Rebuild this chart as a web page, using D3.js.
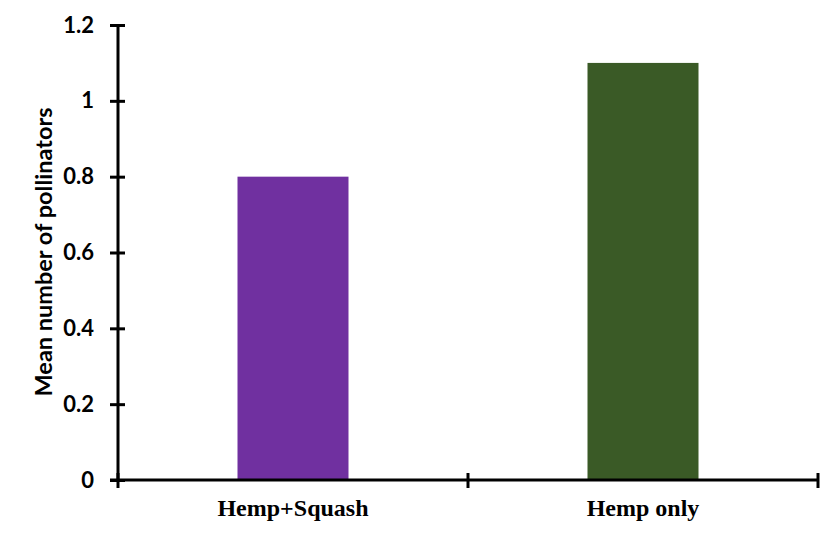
<html>
<script src='https://d3js.org/d3.v7.min.js'></script>
<style>
    body { margin: 0; background: white; }
</style>
<body>
<div id="chart"></div>
<script>
    // chart data
    var categories = ["Hemp+Squash", "Hemp only"];
    var values = [0.8, 1.1];
    var barColors = ["#7030a0", "#3a5a26"];
    var yTicks = [0, 0.2, 0.4, 0.6, 0.8, 1, 1.2];

    const width = 840, height = 536;
    const mLeft = 118, mRight = 818, mTop = 25, mBottom = 480;

    const svg = d3.select("#chart").append("svg")
        .attr("width", width)
        .attr("height", height);

    const xScale = d3.scaleBand()
        .domain(categories)
        .range([mLeft, mRight])
        .paddingInner(0)
        .paddingOuter(0);

    const yScale = d3.scaleLinear()
        .domain([0, 1.2])
        .range([mBottom, mTop]);

    // bars
    const barW = 111;
    svg.selectAll("rect.bar")
        .data(categories)
        .enter()
        .append("rect")
        .attr("class", "bar")
        .attr("x", d => xScale(d) + xScale.bandwidth() / 2 - barW / 2)
        .attr("y", (d, i) => yScale(values[i]))
        .attr("width", barW)
        .attr("height", (d, i) => yScale(0) - yScale(values[i]))
        .attr("fill", (d, i) => barColors[i]);

    // y axis with cross ticks
    const yAxis = svg.append("g")
        .attr("transform", `translate(${mLeft},0)`)
        .call(d3.axisLeft(yScale).tickValues(yTicks).tickSize(0).tickPadding(24)
            .tickFormat(d => d3.format("")(+d.toFixed(1))));
    yAxis.select(".domain").remove();
    yAxis.selectAll("text")
        .style("font-family", "Lato, 'Open Sans', sans-serif")
        .style("font-weight", "bold")
        .style("font-size", "22px")
        .attr("fill", "#000");
    yAxis.selectAll(".tick").append("line")
        .attr("x1", -8).attr("x2", 7)
        .attr("stroke", "#000").attr("stroke-width", 3);
    svg.append("line")
        .attr("x1", mLeft).attr("x2", mLeft)
        .attr("y1", yScale(1.2)).attr("y2", yScale(0))
        .attr("stroke", "#000").attr("stroke-width", 3);

    // x axis
    svg.append("line")
        .attr("x1", mLeft - 8).attr("x2", mRight)
        .attr("y1", mBottom).attr("y2", mBottom)
        .attr("stroke", "#000").attr("stroke-width", 3);
    const bounds = categories.map(d => xScale(d)).concat([mRight]);
    svg.selectAll("line.xtick")
        .data(bounds)
        .enter()
        .append("line")
        .attr("class", "xtick")
        .attr("x1", d => d).attr("x2", d => d)
        .attr("y1", mBottom - 7).attr("y2", mBottom + 8)
        .attr("stroke", "#000").attr("stroke-width", 3);

    svg.selectAll("text.xlab")
        .data(categories)
        .enter()
        .append("text")
        .attr("class", "xlab")
        .attr("x", d => xScale(d) + xScale.bandwidth() / 2)
        .attr("y", 516)
        .attr("text-anchor", "middle")
        .style("font-family", "'Liberation Serif', 'Times New Roman', serif")
        .style("font-weight", "bold")
        .style("font-size", "24px")
        .text(d => d);

    // y axis title
    svg.append("text")
        .attr("transform", "rotate(-90)")
        .attr("x", -252)
        .attr("y", 52)
        .attr("text-anchor", "middle")
        .style("font-family", "Lato, 'Open Sans', sans-serif")
        .style("font-weight", "bold")
        .style("font-size", "23.5px")
        .text("Mean number of pollinators");
</script>
</body>
</html>
